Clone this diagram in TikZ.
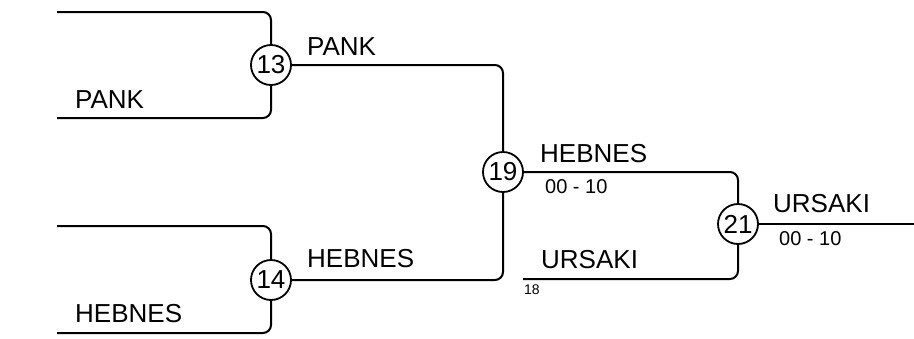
\documentclass[tikz,border=0pt]{standalone}
\usepackage{fontspec}
\setmainfont{Liberation Sans}
\usepackage{tikz}

\tikzset{
  match/.style={circle, draw, line width=1.8pt, minimum size=40pt, inner sep=0pt, font=\fontsize{26}{26}\selectfont},
  team/.style={anchor=base west, inner sep=0pt, font=\fontsize{26}{26}\selectfont},
  score/.style={anchor=base west, inner sep=0pt, font=\fontsize{20}{20}\selectfont},
  tiny/.style={anchor=base west, inner sep=0pt, font=\fontsize{14}{14}\selectfont},
  bracket/.style={line width=2pt, rounded corners=8pt}
}

\begin{document}
\begin{tikzpicture}[x=1pt,y=-1pt]
            \useasboundingbox (0,0) rectangle (914,338);

            % Matches
            \node[match] (m13) at (271,65) {13};
            \node[match] (m14) at (271,280) {14};
            \node[match] (m19) at (503,172) {19};
            \node[match] (m21) at (738,224) {21};

            % Free ends
            \coordinate (in13a) at (57,12);
            \coordinate (in13b) at (57,118);
            \coordinate (in14a) at (57,226);
            \coordinate (in14b) at (57,333);
            \coordinate (in21b) at (523,279);
            \coordinate (out21) at (914,224);

            % Lines
            \draw[bracket] (in13a) -| (m13);
            \draw[bracket] (in13b) -| (m13);
            \draw[bracket] (in14a) -| (m14);
            \draw[bracket] (in14b) -| (m14);
            \draw[bracket] (m13) -| (m19);
            \draw[bracket] (m14) -| (m19);
            \draw[bracket] (m19) -| (m21);
            \draw[bracket] (in21b) -| (m21);
            \draw[bracket] (m21) -- (out21);

            % Names
            \node[team] (n13b) at (75,108) {PANK};
            \node[team] (n14b) at (75,322) {HEBNES};
            \node[team] (w13) at (307,55) {PANK};
            \node[team] (w14) at (307,267) {HEBNES};
            \node[team] (w19) at (540,162) {HEBNES};
            \node[team] (n21b) at (541,268) {URSAKI};
            \node[team] (w21) at (773,212) {URSAKI};

            % Scores
            \node[score] (s19) at (545,193) {00 - 10};
            \node[score] (s21) at (779,245) {00 - 10};
            \node[tiny] (r18) at (524,294) {18};
        \end{tikzpicture}
\end{document}
